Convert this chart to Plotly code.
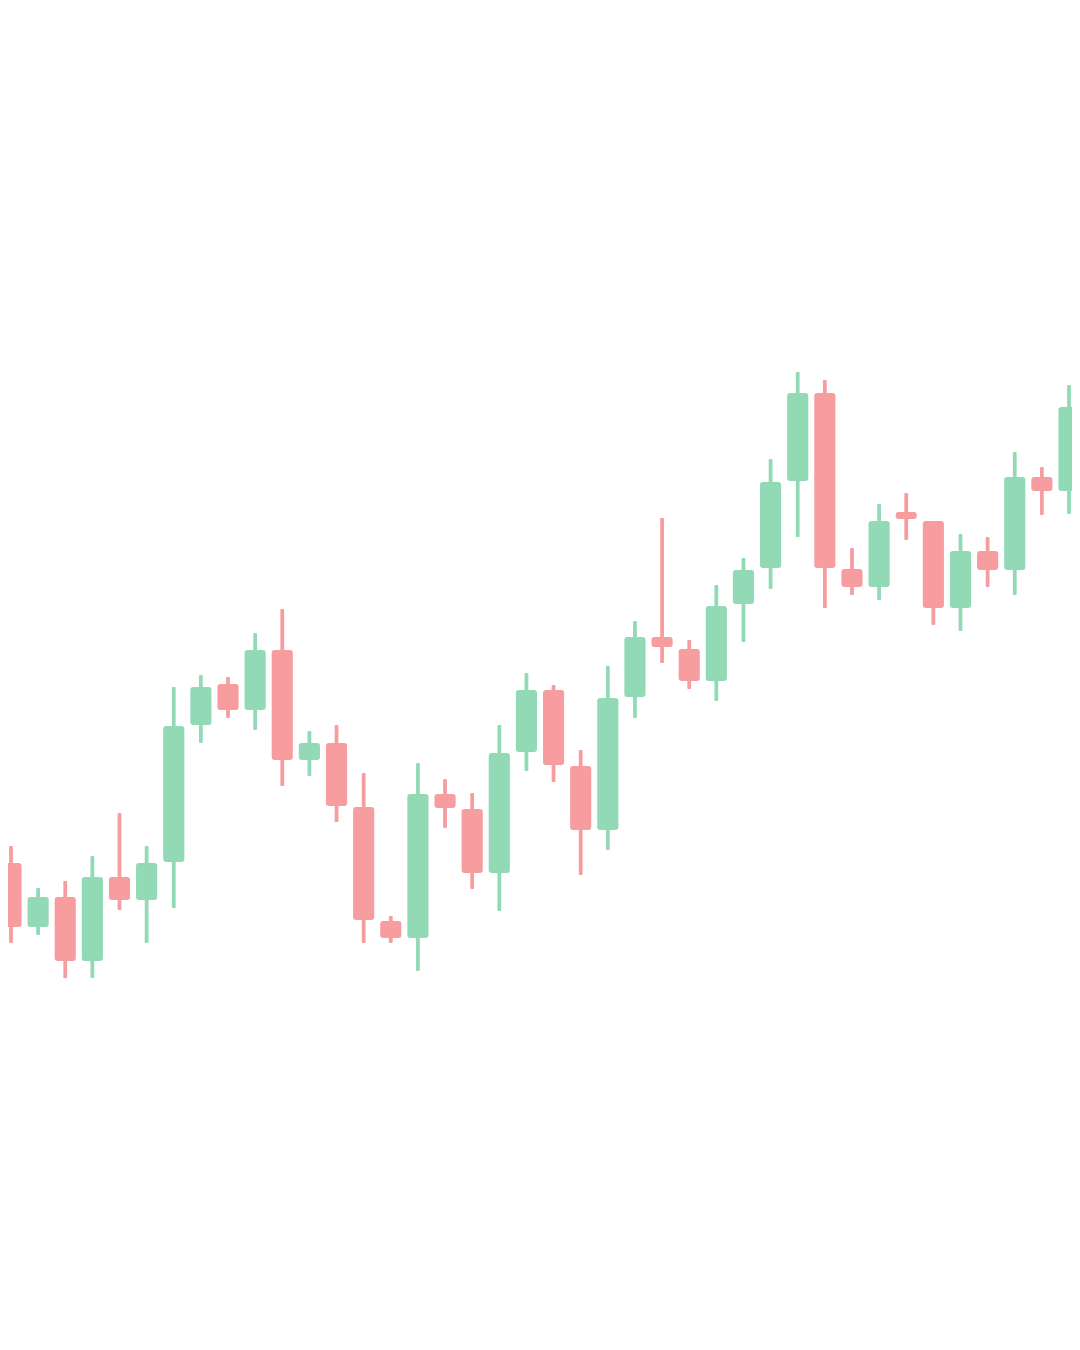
import plotly.graph_objects as go

# OHLC data (arbitrary price units), 40 sessions
session = list(range(40))
open_ = [487, 423, 453, 389, 473, 450, 488, 625, 666, 640,
         700, 590, 607, 543, 429, 412, 556, 541, 477, 598,
         660, 584, 520, 653, 713, 701, 669, 746, 782, 869,
         957, 781, 763, 838, 829, 742, 799, 780, 873, 859]
high = [504, 462, 469, 494, 537, 504, 663, 675, 673, 717,
        741, 619, 625, 577, 434, 587, 571, 557, 625, 677,
        665, 600, 684, 729, 832, 710, 765, 792, 891, 978,
        970, 802, 846, 857, 829, 816, 813, 898, 883, 965]
low = [407, 415, 372, 372, 440, 407, 442, 607, 632, 620,
       564, 574, 528, 407, 407, 379, 522, 461, 439, 579,
       568, 475, 500, 632, 687, 661, 649, 708, 761, 813,
       742, 755, 750, 810, 725, 719, 763, 755, 835, 836]
close = [423, 453, 389, 473, 450, 487, 624, 663, 640, 700,
         590, 607, 544, 430, 412, 556, 542, 477, 597, 660,
         585, 520, 652, 713, 703, 669, 744, 780, 868, 957,
         782, 763, 829, 831, 742, 799, 780, 873, 859, 943]

UP = "#92DAB5"
DOWN = "#F79DA0"

colors = [UP if c >= o else DOWN for o, c in zip(open_, close)]
body_base = [min(o, c) for o, c in zip(open_, close)]
body_len = [abs(c - o) for o, c in zip(open_, close)]
wick_len = [h - l for h, l in zip(high, low)]

fig = go.Figure()
fig.add_trace(go.Bar(
    x=session, y=wick_len, base=low, width=0.14,
    marker=dict(color=colors, line=dict(width=0), cornerradius=2),
    hoverinfo="skip", showlegend=False,
))
fig.add_trace(go.Bar(
    x=session, y=body_len, base=body_base, width=0.78,
    marker=dict(color=colors, line=dict(width=0), cornerradius=3),
    hoverinfo="skip", showlegend=False,
))

# page body has an 8px margin; figure kept short enough that the page never scrolls
fig.update_layout(
    width=1072, height=1300,
    margin=dict(l=0, r=0, t=0, b=0),
    paper_bgcolor="white", plot_bgcolor="white",
    barmode="overlay",
    xaxis=dict(visible=False, range=[-0.110, 39.405], fixedrange=True),
    yaxis=dict(visible=False, range=[42, 1342], fixedrange=True),
    showlegend=False,
)

fig.write_html("out.html", config={"displayModeBar": False})
